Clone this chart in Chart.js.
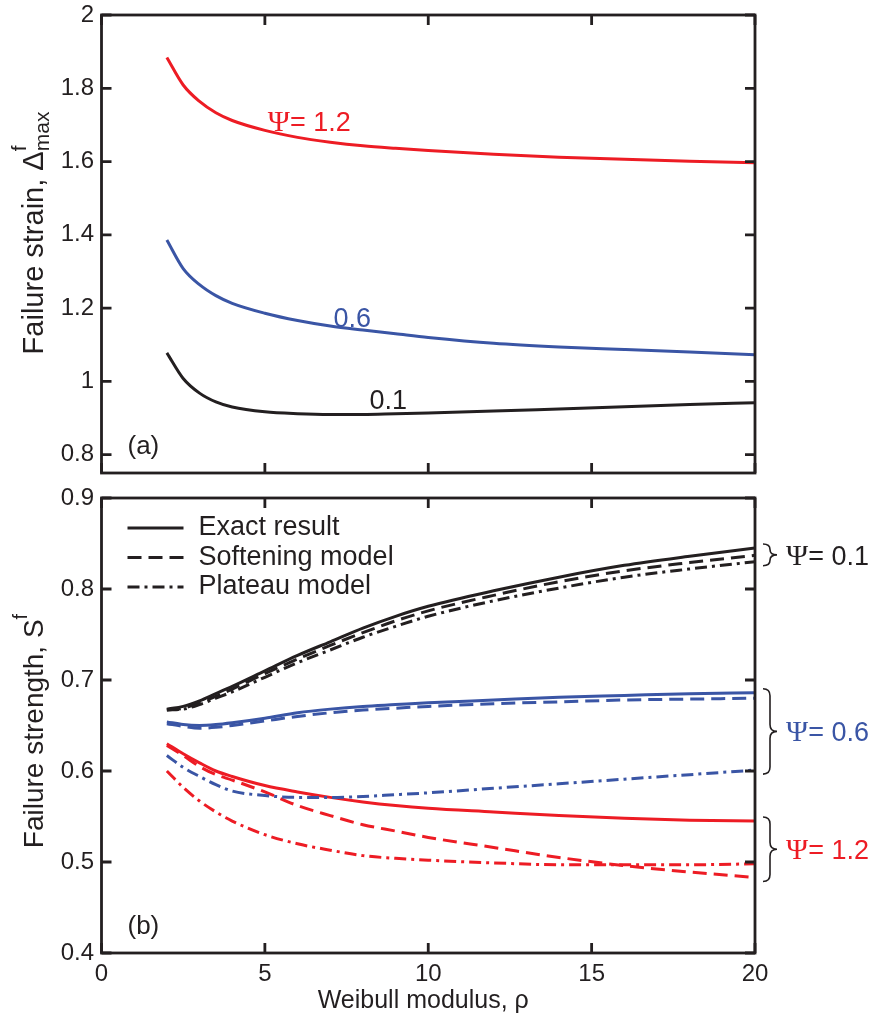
<!DOCTYPE html>
<html>
<head>
<meta charset="utf-8">
<title>Failure strain and strength vs Weibull modulus</title>
<script src="https://cdn.jsdelivr.net/npm/chart.js@4.4.1/dist/chart.umd.min.js"></script>
<style>
  html, body { margin: 0; padding: 0; background: #ffffff; }
  #wrap { position: relative; width: 876px; height: 1019px; overflow: hidden; }
  #wrap canvas { position: absolute; left: 0; }
  #cTop { top: 0; }
  #cBottom { top: 480px; }
</style>
</head>
<body>
<div id="wrap">
  <canvas id="cTop" width="876" height="480"></canvas>
  <canvas id="cBottom" width="876" height="539"></canvas>
</div>
<script>
// Weibull modulus values at which every curve is sampled
const rho = [2, 2.5, 3, 3.5, 4, 5, 6, 7, 8, 9, 10, 12, 14, 16, 18, 20];

// (a) failure strain, Delta^f_max
const strainPsi12 = [1.884, 1.809, 1.764, 1.733, 1.712, 1.685, 1.666, 1.653, 1.643, 1.636, 1.630, 1.620, 1.612, 1.606, 1.601, 1.597];
const strainPsi06 = [1.386, 1.308, 1.264, 1.234, 1.213, 1.186, 1.166, 1.151, 1.140, 1.130, 1.120, 1.104, 1.094, 1.087, 1.080, 1.073];
const strainPsi01 = [1.078, 1.008, 0.968, 0.944, 0.930, 0.917, 0.912, 0.910, 0.910, 0.912, 0.914, 0.919, 0.925, 0.931, 0.937, 0.942];

// (b) failure strength, S^f
const exactPsi01     = [0.668, 0.671, 0.677, 0.685, 0.693, 0.710, 0.727, 0.742, 0.757, 0.770, 0.781, 0.798, 0.813, 0.826, 0.836, 0.845];
const softeningPsi01 = [0.667, 0.669, 0.675, 0.682, 0.690, 0.707, 0.723, 0.738, 0.752, 0.765, 0.776, 0.793, 0.808, 0.820, 0.829, 0.837];
const plateauPsi01   = [0.667, 0.668, 0.673, 0.680, 0.687, 0.703, 0.719, 0.733, 0.747, 0.759, 0.770, 0.787, 0.801, 0.813, 0.822, 0.830];
const exactPsi06     = [0.654, 0.651, 0.650, 0.651, 0.653, 0.658, 0.664, 0.668, 0.671, 0.673, 0.675, 0.678, 0.681, 0.683, 0.685, 0.686];
const softeningPsi06 = [0.652, 0.649, 0.647, 0.648, 0.650, 0.655, 0.660, 0.664, 0.667, 0.669, 0.671, 0.674, 0.676, 0.678, 0.679, 0.680];
const plateauPsi06   = [0.617, 0.604, 0.594, 0.585, 0.578, 0.573, 0.571, 0.571, 0.572, 0.574, 0.576, 0.581, 0.586, 0.591, 0.596, 0.601];
const exactPsi12     = [0.630, 0.619, 0.609, 0.600, 0.594, 0.584, 0.577, 0.571, 0.566, 0.562, 0.559, 0.555, 0.551, 0.548, 0.546, 0.545];
const softeningPsi12 = [0.628, 0.617, 0.605, 0.596, 0.590, 0.577, 0.562, 0.551, 0.541, 0.534, 0.527, 0.516, 0.505, 0.496, 0.489, 0.483];
const plateauPsi12   = [0.600, 0.582, 0.567, 0.555, 0.545, 0.530, 0.520, 0.513, 0.507, 0.504, 0.502, 0.499, 0.497, 0.497, 0.497, 0.498];

// Tick values
const xTicks = [0, 5, 10, 15, 20];
const yTicksTop = [0.8, 1, 1.2, 1.4, 1.6, 1.8, 2];
const yTicksBottom = [0.4, 0.5, 0.6, 0.7, 0.8, 0.9];

// Text
const legendLabels = ['Exact result', 'Softening model', 'Plateau model'];
const psiValues = ['0.1', '0.6', '1.2'];

const INK = '#231f20';
const RED = '#ed1c24';
const BLUE = '#3a55a5';
const SANS = '"Liberation Sans", Arial, Helvetica, sans-serif';
const SERIF = '"Liberation Serif", "Times New Roman", serif';
const DASH = [14, 7];
const DASHDOT = [12, 5, 3, 5];

const pts = ys => rho.map((r, i) => ({ x: r, y: ys[i] }));
const line = (ys, color, dash) => ({
  data: pts(ys),
  borderColor: color,
  borderWidth: 3,
  borderDash: dash || [],
  pointRadius: 0,
  fill: false,
  cubicInterpolationMode: 'monotone'
});

// draw a run of text pieces with separate fonts / vertical offsets
function drawRuns(ctx, runs, x, y, align) {
  let total = 0;
  runs.forEach(r => {
    ctx.font = r.font;
    r.w = ctx.measureText(r.text).width;
    if (!r.stay) total += r.w;
  });
  let cx = align === 'center' ? x - total / 2 : x;
  ctx.textAlign = 'left';
  ctx.textBaseline = 'alphabetic';
  runs.forEach(r => {
    ctx.font = r.font;
    ctx.fillStyle = r.color || ctx.fillStyle;
    ctx.fillText(r.text, cx, y + (r.dy || 0));
    if (!r.stay) cx += r.w;
  });
}

function drawYTitle(ctx, bx, cy, runs) {
  ctx.save();
  ctx.translate(bx, cy);
  ctx.rotate(-Math.PI / 2);
  ctx.fillStyle = INK;
  drawRuns(ctx, runs, 0, 0, 'center');
  ctx.restore();
}

function frameAndTicks(chart, yVals) {
  const { ctx, chartArea: a, scales: { x, y } } = chart;
  ctx.save();
  ctx.strokeStyle = INK;
  ctx.lineWidth = 2.8;
  ctx.lineJoin = 'miter';
  ctx.lineCap = 'butt';
  ctx.beginPath();
  xTicks.forEach(v => {
    const px = x.getPixelForValue(v);
    ctx.moveTo(px, a.bottom); ctx.lineTo(px, a.bottom - 10);
    ctx.moveTo(px, a.top); ctx.lineTo(px, a.top + 10);
  });
  yVals.forEach(v => {
    const py = y.getPixelForValue(v);
    ctx.moveTo(a.left, py); ctx.lineTo(a.left + 10, py);
    ctx.moveTo(a.right, py); ctx.lineTo(a.right - 10, py);
  });
  ctx.stroke();
  ctx.strokeRect(a.left, a.top, a.right - a.left, a.bottom - a.top);
  ctx.restore();
}

function brace(ctx, x, y1, y2, w) {
  const ym = (y1 + y2) / 2;
  const r = Math.min(w / 2, (y2 - y1) / 4);
  const xm = x + w / 2;
  ctx.beginPath();
  ctx.moveTo(x, y1);
  ctx.quadraticCurveTo(xm, y1, xm, y1 + r);
  ctx.lineTo(xm, ym - r);
  ctx.quadraticCurveTo(xm, ym, x + w, ym);
  ctx.quadraticCurveTo(xm, ym, xm, ym + r);
  ctx.lineTo(xm, y2 - r);
  ctx.quadraticCurveTo(xm, y2, x, y2);
  ctx.stroke();
}

const yAxisFit = s => { s.width = 101.5; s.paddingTop = 0; s.paddingBottom = 0; };
const TICK_FONT = { family: SANS, size: 24 };

// ---------- (a) failure strain ----------
const topDecor = {
  id: 'topDecor',
  afterDatasetsDraw(chart) {
    const { ctx, chartArea: a, scales: { x, y } } = chart;
    frameAndTicks(chart, yTicksTop);
    ctx.save();
    // curve labels
    drawRuns(ctx, [
      { text: 'Ψ', font: '30px ' + SERIF, color: RED },
      { text: '= 1.2', font: '27px ' + SANS, color: RED }
    ], x.getPixelForValue(5.09), y.getPixelForValue(1.711) + 10, 'left');
    drawRuns(ctx, [{ text: '0.6', font: '27px ' + SANS, color: BLUE }],
      x.getPixelForValue(7.1), y.getPixelForValue(1.175) + 10, 'left');
    drawRuns(ctx, [{ text: '0.1', font: '27px ' + SANS, color: INK }],
      x.getPixelForValue(8.2), y.getPixelForValue(0.953) + 10, 'left');
    // panel tag
    drawRuns(ctx, [{ text: '(a)', font: '26px ' + SANS, color: INK }], a.left + 26, a.bottom - 19, 'left');
    // y title
    drawYTitle(ctx, 43, 233, [
      { text: 'Failure strain, Δ', font: '29px ' + SANS },
      { text: 'f', font: '21px ' + SANS, dy: -17, stay: true },
      { text: 'max', font: '21px ' + SANS, dy: 6 }
    ]);
    ctx.restore();
  }
};

new Chart(document.getElementById('cTop'), {
  type: 'line',
  data: {
    datasets: [
      line(strainPsi12, RED),
      line(strainPsi06, BLUE),
      line(strainPsi01, INK)
    ]
  },
  options: {
    responsive: false,
    animation: false,
    devicePixelRatio: 1,
    layout: { padding: { left: 0, top: 15, right: 121, bottom: 7 } },
    plugins: { legend: { display: false }, tooltip: { enabled: false } },
    scales: {
      x: {
        type: 'linear', min: 0, max: 20,
        afterBuildTicks: s => { s.ticks = xTicks.map(v => ({ value: v })); },
        afterFit: s => { s.height = 0; s.paddingLeft = 0; s.paddingRight = 0; },
        ticks: { display: false },
        grid: { display: false, drawTicks: false },
        border: { display: false }
      },
      y: {
        type: 'linear', min: 0.75, max: 2,
        afterBuildTicks: s => { s.ticks = yTicksTop.map(v => ({ value: v })); },
        afterFit: yAxisFit,
        ticks: { padding: 7.5, color: INK, font: TICK_FONT, callback: v => String(v) },
        grid: { display: false, drawTicks: false },
        border: { display: false }
      }
    }
  },
  plugins: [topDecor]
});

// ---------- (b) failure strength ----------
const bottomDecor = {
  id: 'bottomDecor',
  afterDatasetsDraw(chart) {
    const { ctx, chartArea: a, scales: { x, y } } = chart;
    frameAndTicks(chart, yTicksBottom);
    ctx.save();
    // legend: line style samples
    const dashes = [[], DASH, DASHDOT];
    legendLabels.forEach((lab, i) => {
      const cy = a.top + 30 + i * 29.5;
      ctx.strokeStyle = INK;
      ctx.lineWidth = 3;
      ctx.setLineDash(dashes[i]);
      ctx.beginPath();
      ctx.moveTo(a.left + 26, cy);
      ctx.lineTo(a.left + 82, cy);
      ctx.stroke();
      ctx.setLineDash([]);
      ctx.fillStyle = INK;
      ctx.font = '27px ' + SANS;
      ctx.textAlign = 'left';
      ctx.textBaseline = 'middle';
      ctx.fillText(lab, a.left + 97, cy);
    });
    // braces grouping the three models per Psi
    const groups = [
      { psi: psiValues[0], hi: exactPsi01[exactPsi01.length - 1], lo: plateauPsi01[plateauPsi01.length - 1], color: INK },
      { psi: psiValues[1], hi: exactPsi06[exactPsi06.length - 1], lo: plateauPsi06[plateauPsi06.length - 1], color: BLUE },
      { psi: psiValues[2], hi: exactPsi12[exactPsi12.length - 1], lo: softeningPsi12[softeningPsi12.length - 1], color: RED }
    ];
    groups.forEach(g => {
      const y1 = y.getPixelForValue(g.hi) - 4;
      const y2 = y.getPixelForValue(g.lo) + 4;
      ctx.strokeStyle = INK;
      ctx.lineWidth = 1.6;
      brace(ctx, a.right + 8, y1, y2, 14);
      drawRuns(ctx, [
        { text: 'Ψ', font: '30px ' + SERIF, color: g.color },
        { text: '= ' + g.psi, font: '27px ' + SANS, color: g.color }
      ], a.right + 31, (y1 + y2) / 2 + 10, 'left');
    });
    // panel tag
    drawRuns(ctx, [{ text: '(b)', font: '26px ' + SANS, color: INK }], a.left + 26, a.bottom - 19, 'left');
    // axis titles
    drawYTitle(ctx, 43, 731 - 480, [
      { text: 'Failure strength, S', font: '28px ' + SANS },
      { text: 'f', font: '20px ' + SANS, dy: -16 }
    ]);
    ctx.fillStyle = INK;
    drawRuns(ctx, [{ text: 'Weibull modulus, ρ', font: '25px ' + SANS, color: INK }],
      (a.left + a.right) / 2 - 5, 1008 - 480, 'center');
    ctx.restore();
  }
};

new Chart(document.getElementById('cBottom'), {
  type: 'line',
  data: {
    datasets: [
      line(exactPsi01, INK),
      line(softeningPsi01, INK, DASH),
      line(plateauPsi01, INK, DASHDOT),
      line(exactPsi06, BLUE),
      line(softeningPsi06, BLUE, DASH),
      line(plateauPsi06, BLUE, DASHDOT),
      line(exactPsi12, RED),
      line(softeningPsi12, RED, DASH),
      line(plateauPsi12, RED, DASHDOT)
    ]
  },
  options: {
    responsive: false,
    animation: false,
    devicePixelRatio: 1,
    layout: { padding: { left: 0, top: 18, right: 121, bottom: 0 } },
    plugins: { legend: { display: false }, tooltip: { enabled: false } },
    scales: {
      x: {
        type: 'linear', min: 0, max: 20,
        afterBuildTicks: s => { s.ticks = xTicks.map(v => ({ value: v })); },
        afterFit: s => { s.height = 66; s.paddingLeft = 0; s.paddingRight = 0; },
        ticks: { padding: 7, color: INK, maxRotation: 0, font: TICK_FONT, callback: v => String(v) },
        grid: { display: false, drawTicks: false },
        border: { display: false }
      },
      y: {
        type: 'linear', min: 0.4, max: 0.9,
        afterBuildTicks: s => { s.ticks = yTicksBottom.map(v => ({ value: v })); },
        afterFit: yAxisFit,
        ticks: { padding: 7.5, color: INK, font: TICK_FONT, callback: v => String(v) },
        grid: { display: false, drawTicks: false },
        border: { display: false }
      }
    }
  },
  plugins: [bottomDecor]
});
</script>
</body>
</html>
